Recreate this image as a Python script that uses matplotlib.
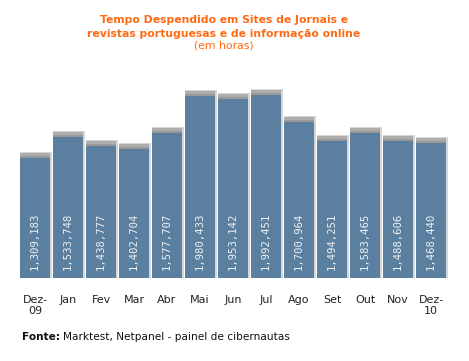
import matplotlib
matplotlib.use("Agg")
import matplotlib.pyplot as plt

months = ["Dez-\n09", "Jan", "Fev", "Mar", "Abr", "Mai", "Jun", "Jul", "Ago", "Set", "Out", "Nov", "Dez-\n10"]
hours = [1309183, 1533748, 1438777, 1402704, 1577707, 1980433, 1953142, 1992451,
         1700964, 1494251, 1583465, 1488606, 1468440]

W, H = 469, 361
fig = plt.figure(figsize=(W / 100, H / 100), dpi=100)
fig.patch.set_facecolor("white")

left_px, right_px = 18.5, 447.5
bottom_px, top_px = 278, 80
ax = fig.add_axes([left_px / W, (H - bottom_px) / H, (right_px - left_px) / W, (bottom_px - top_px) / H])
ymax = 2157000
ax.set_xlim(-0.5, len(months) - 0.5)
ax.set_ylim(0, ymax)
px = ymax / (bottom_px - top_px)  # data units per pixel

x = list(range(len(months)))
bw = 0.91
# shadow layers
ax.bar([i + 0.03 for i in x], [v + 6 * px for v in hours], width=bw + 0.04, color="#d6d6d6", zorder=1)
ax.bar(x, [v + 5 * px for v in hours], width=bw - 0.02, color="#adadad", zorder=2)
ax.bar(x, [v + 2 * px for v in hours], width=bw, color="#999999", zorder=2.5)
ax.bar(x, hours, width=bw, color="#5b7f9f", zorder=3)

for i, v in zip(x, hours):
    ax.annotate(f"{v:,}", xy=(i, 0), xytext=(0, 6), textcoords="offset points",
                rotation=90, ha="center", va="bottom", color="#eef2f6",
                fontsize=7.6, family="DejaVu Sans Mono", zorder=4)

ax.set_xticks(x)
ax.set_xticklabels(months, fontsize=8, color="#222222", linespacing=1.15)
ax.tick_params(axis="x", length=0, pad=12)
ax.set_yticks([])
for s in ax.spines.values():
    s.set_visible(False)

orange = "#ff6a13"
fig.text(224 / W, 1 - 20 / H, "Tempo Despendido em Sites de Jornais e", ha="center", va="center",
         fontsize=7.8, fontweight="bold", color=orange)
fig.text(224 / W, 1 - 34 / H, "revistas portuguesas e de informação online", ha="center", va="center",
         fontsize=7.8, fontweight="bold", color=orange)
fig.text(224 / W, 1 - 46 / H, "(em horas)", ha="center", va="center",
         fontsize=7.8, color=orange)

t1 = fig.text(22 / W, 1 - 337 / H, "Fonte:", ha="left", va="center", fontsize=7.6,
              fontweight="bold", color="#111111")
fig.canvas.draw()
bb = t1.get_window_extent(fig.canvas.get_renderer())
fig.text((bb.x1 + 3) / W, 1 - 337 / H, "Marktest, Netpanel - painel de cibernautas", ha="left",
         va="center", fontsize=7.6, color="#111111")

fig.savefig("out.png", dpi=100)
